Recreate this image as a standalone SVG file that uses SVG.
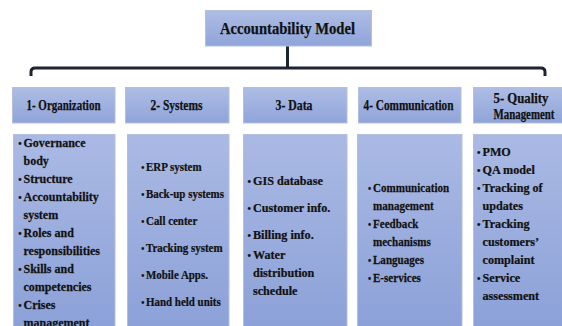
<svg xmlns="http://www.w3.org/2000/svg" width="562" height="326" viewBox="0 0 562 326">
  <defs>
    <!-- soft periwinkle fill used by the title and column headers -->
    <linearGradient id="fillHead" x1="0" y1="0" x2="0" y2="1">
      <stop offset="0" stop-color="#aebde5"/>
      <stop offset="1" stop-color="#8fa4d9"/>
    </linearGradient>
    <!-- same tone stretched over the tall list panels -->
    <linearGradient id="fillList" gradientUnits="userSpaceOnUse" x1="0" y1="134" x2="0" y2="326">
      <stop offset="0" stop-color="#abbae4"/>
      <stop offset="1" stop-color="#8ca1d8"/>
    </linearGradient>
  </defs>
  <style>
    .box{fill:url(#fillHead);stroke:#b4bfdd;stroke-width:1}
    .list{fill:url(#fillList);stroke:#b4bfdd;stroke-width:1}
    text{font-family:"Liberation Serif","Times New Roman",serif;font-weight:bold;fill:#111;stroke:#111;stroke-width:0.25}
    .title{font-size:17px;text-anchor:middle}
    .head{font-size:14px;text-anchor:middle}
    .item{font-size:13.5px}
    .dot{font-size:11px}
    .link{fill:none;stroke:#1e2330;stroke-width:3}
  </style>

  <!-- tree connectors -->
  <g id="connectors">
    <path class="link" d="M287.5,46 V68"/>
    <path class="link" d="M31,76 V72 Q31,68 35,68 H541 Q545,68 545,72 V76"/>
  </g>

  <!-- root -->
  <g id="node-root">
    <rect class="box" x="205.5" y="10.5" width="166" height="35.5"/>
    <text class="title" x="287.5" y="34" textLength="135" lengthAdjust="spacingAndGlyphs">Accountability Model</text>
  </g>

  <!-- column headers -->
  <g id="node-organization">
    <rect class="box" x="12.5" y="87.5" width="102.5" height="35.5"/>
    <text class="head" x="63.5" y="110" textLength="74" lengthAdjust="spacingAndGlyphs">1- Organization</text>
  </g>
  <g id="node-systems">
    <rect class="box" x="125.5" y="87.5" width="103.5" height="35.5"/>
    <text class="head" x="176.5" y="110" textLength="52" lengthAdjust="spacingAndGlyphs">2- Systems</text>
  </g>
  <g id="node-data">
    <rect class="box" x="243.5" y="87.5" width="103.5" height="35.5"/>
    <text class="head" x="294" y="110" textLength="37" lengthAdjust="spacingAndGlyphs">3- Data</text>
  </g>
  <g id="node-communication">
    <rect class="box" x="358.5" y="87.5" width="102.5" height="35.5"/>
    <text class="head" x="408.5" y="110" textLength="90" lengthAdjust="spacingAndGlyphs">4- Communication</text>
  </g>
  <g id="node-quality">
    <rect class="box" x="473.5" y="87.5" width="102" height="35.5"/>
    <text class="head" x="521" y="102.5" textLength="55" lengthAdjust="spacingAndGlyphs">5- Quality</text>
    <text class="head" x="524" y="118.5" textLength="61" lengthAdjust="spacingAndGlyphs">Management</text>
  </g>

  <!-- list panels -->
  <g id="node-organization-items">
    <rect class="list" x="13.5" y="134.5" width="101.5" height="200"/>
    <g class="item" transform="translate(23.5 0) scale(0.89 1)">
      <text y="147.5"><tspan class="dot" x="-6">•</tspan><tspan x="0">Governance</tspan></text>
      <text x="0" y="165.5">body</text>
      <text y="183.5"><tspan class="dot" x="-6">•</tspan><tspan x="0">Structure</tspan></text>
      <text y="201.5"><tspan class="dot" x="-6">•</tspan><tspan x="0">Accountability</tspan></text>
      <text x="0" y="219.5">system</text>
      <text y="237.5"><tspan class="dot" x="-6">•</tspan><tspan x="0">Roles and</tspan></text>
      <text x="0" y="255.5">responsibilities</text>
      <text y="273.5"><tspan class="dot" x="-6">•</tspan><tspan x="0">Skills and</tspan></text>
      <text x="0" y="291.5">competencies</text>
      <text y="309.5"><tspan class="dot" x="-6">•</tspan><tspan x="0">Crises</tspan></text>
      <text x="0" y="327.5">management</text>
    </g>
  </g>

  <g id="node-systems-items">
    <rect class="list" x="127.5" y="134.5" width="101.5" height="200"/>
    <g class="item" transform="translate(146 0) scale(0.81 1)">
      <text y="171.5"><tspan class="dot" x="-6">•</tspan><tspan x="0">ERP system</tspan></text>
      <text y="198.5"><tspan class="dot" x="-6">•</tspan><tspan x="0">Back-up systems</tspan></text>
      <text y="225.5"><tspan class="dot" x="-6">•</tspan><tspan x="0">Call center</tspan></text>
      <text y="252.5"><tspan class="dot" x="-6">•</tspan><tspan x="0">Tracking system</tspan></text>
      <text y="279.5"><tspan class="dot" x="-6">•</tspan><tspan x="0">Mobile Apps.</tspan></text>
      <text y="306.5"><tspan class="dot" x="-6">•</tspan><tspan x="0">Hand held units</tspan></text>
    </g>
  </g>

  <g id="node-data-items">
    <rect class="list" x="243.5" y="134.5" width="103.5" height="200"/>
    <g class="item" transform="translate(253 0) scale(0.9 1)">
      <text y="185.5"><tspan class="dot" x="-6">•</tspan><tspan x="0">GIS database</tspan></text>
      <text y="212.5"><tspan class="dot" x="-6">•</tspan><tspan x="0">Customer info.</tspan></text>
      <text y="239.5"><tspan class="dot" x="-6">•</tspan><tspan x="0">Billing info.</tspan></text>
      <text y="259.5"><tspan class="dot" x="-6">•</tspan><tspan x="0">Water</tspan></text>
      <text x="0" y="277.5">distribution</text>
      <text x="0" y="295.5">schedule</text>
    </g>
  </g>

  <g id="node-communication-items">
    <rect class="list" x="357.5" y="134.5" width="104.5" height="200"/>
    <g class="item" transform="translate(373 0) scale(0.82 1)">
      <text y="192.5"><tspan class="dot" x="-6">•</tspan><tspan x="0">Communication</tspan></text>
      <text x="0" y="210.5">management</text>
      <text y="228.5"><tspan class="dot" x="-6">•</tspan><tspan x="0">Feedback</tspan></text>
      <text x="0" y="246.5">mechanisms</text>
      <text y="264.5"><tspan class="dot" x="-6">•</tspan><tspan x="0">Languages</tspan></text>
      <text y="282.5"><tspan class="dot" x="-6">•</tspan><tspan x="0">E-services</tspan></text>
    </g>
  </g>

  <g id="node-quality-items">
    <rect class="list" x="473.5" y="134.5" width="102" height="200"/>
    <g class="item" transform="translate(482.5 0) scale(0.9 1)">
      <text y="156.5"><tspan class="dot" x="-6">•</tspan><tspan x="0">PMO</tspan></text>
      <text y="174.5"><tspan class="dot" x="-6">•</tspan><tspan x="0">QA model</tspan></text>
      <text y="192.5"><tspan class="dot" x="-6">•</tspan><tspan x="0">Tracking of</tspan></text>
      <text x="0" y="210.5">updates</text>
      <text y="228.5"><tspan class="dot" x="-6">•</tspan><tspan x="0">Tracking</tspan></text>
      <text x="0" y="246.5">customers’</text>
      <text x="0" y="264.5">complaint</text>
      <text y="282.5"><tspan class="dot" x="-6">•</tspan><tspan x="0">Service</tspan></text>
      <text x="0" y="300.5">assessment</text>
    </g>
  </g>
</svg>
